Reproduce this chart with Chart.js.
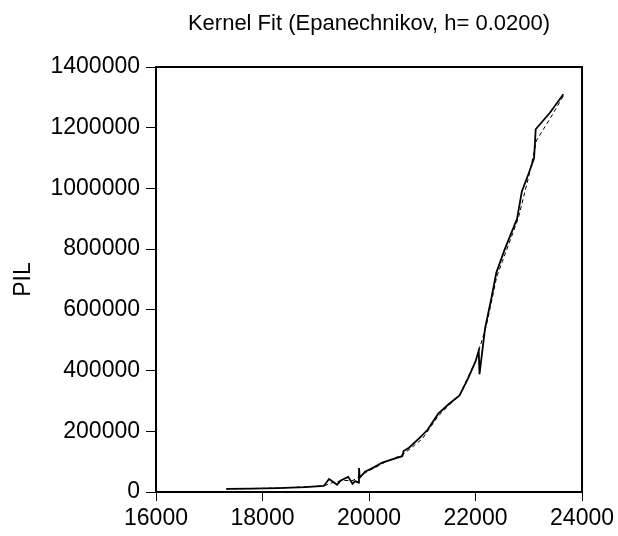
<!DOCTYPE html>
<html>
<head>
<meta charset="utf-8">
<script src="https://cdn.jsdelivr.net/npm/chart.js@4"></script>
<style>
  html, body { margin: 0; padding: 0; background: #fff; }
  #wrap { width: 618px; height: 536px; }
</style>
</head>
<body>
<div id="wrap"><canvas id="kernelChart"></canvas></div>
<script>
// observed series (solid line)
const pilX = [17320, 17800, 18300, 18800, 19150, 19250, 19400, 19470, 19610, 19690,
              19740, 19800, 19812, 19825, 19925, 20100, 20250, 20450, 20625, 20650,
              20750, 20950, 21100, 21300, 21500, 21700, 21850, 22000, 22060, 22075,
              22180, 22300, 22390, 22550, 22780, 22870, 23000, 23100, 23130, 23400, 23650];
const pilY = [10000, 11000, 13000, 16000, 20000, 43000, 24000, 38000, 50000, 27000,
              36000, 31000, 79000, 47000, 67000, 82000, 97000, 108000, 118000, 135000,
              146000, 178000, 205000, 258000, 290000, 318000, 370000, 430000, 465000, 388000,
              540000, 640000, 722000, 800000, 900000, 990000, 1050000, 1100000, 1195000, 1250000, 1310000];

// kernel fit (dashed line)
const fitX = [17320, 18300, 19150, 19300, 19500, 19700, 19850, 20000, 20300, 20650,
              21000, 21300, 21700, 22000, 22200, 22400, 22800, 23000, 23150, 23400, 23650];
const fitY = [10000, 13000, 20000, 30000, 38000, 38000, 55000, 70000, 98000, 125000,
              175000, 250000, 320000, 430000, 545000, 710000, 900000, 1040000, 1160000, 1230000, 1305000];

const xTicks = [16000, 18000, 20000, 22000, 24000];
const yTicks = [0, 200000, 400000, 600000, 800000, 1000000, 1200000, 1400000];

const titleText = 'Kernel Fit (Epanechnikov, h= 0.0200)';

const toPoints = (xs, ys) => xs.map((x, i) => ({ x, y: ys[i] }));

Chart.defaults.font.family = '"Liberation Sans", Arial, sans-serif';
Chart.defaults.color = '#000';

// box around the plot area + title centred over it
const frame = {
    id: 'frame',
    afterDatasetsDraw(chart) {
        const { ctx, chartArea: a } = chart;
        ctx.save();
        ctx.strokeStyle = '#000';
        ctx.lineWidth = 2;
        ctx.strokeRect(a.left, a.top, a.right - a.left, a.bottom - a.top);

        ctx.fillStyle = '#000';
        ctx.font = '22px "Liberation Sans", Arial, sans-serif';
        ctx.textAlign = 'center';
        ctx.textBaseline = 'middle';
        ctx.fillText(titleText, (a.left + a.right) / 2, 24);
        ctx.restore();
    }
};

new Chart(document.getElementById('kernelChart'), {
    type: 'scatter',
    data: {
        datasets: [
            {
                label: 'PIL',
                data: toPoints(pilX, pilY),
                showLine: true,
                borderColor: '#000',
                borderWidth: 1.8,
                pointRadius: 0,
                tension: 0
            },
            {
                label: 'Fit',
                data: toPoints(fitX, fitY),
                showLine: true,
                borderColor: '#000',
                borderWidth: 1,
                borderDash: [4, 3],
                pointRadius: 0,
                tension: 0
            }
        ]
    },
    options: {
        responsive: true,
        maintainAspectRatio: false,
        animation: false,
        layout: { padding: { left: 0, right: 35, top: 67, bottom: 0 } },
        plugins: {
            legend: { display: false },
            tooltip: { enabled: false },
            title: { display: false }
        },
        scales: {
            x: {
                type: 'linear',
                min: 16000,
                max: 24000,
                afterBuildTicks: s => { s.ticks = xTicks.map(v => ({ value: v })); },
                afterFit: s => { s.height = 44; },
                ticks: {
                    font: { size: 23 },
                    padding: 4,
                    maxRotation: 0,
                    callback: v => String(v)
                },
                grid: { display: true, drawOnChartArea: false, tickLength: 9, color: '#000' },
                border: { display: true, color: '#000', width: 2 }
            },
            y: {
                min: 0,
                max: 1400000,
                afterBuildTicks: s => { s.ticks = yTicks.map(v => ({ value: v })); },
                afterFit: s => { s.width = 156; },
                ticks: {
                    font: { size: 23 },
                    padding: 6,
                    callback: v => String(v)
                },
                grid: { display: true, drawOnChartArea: false, tickLength: 10, color: '#000' },
                border: { display: true, color: '#000', width: 2 },
                title: {
                    display: true,
                    text: 'PIL',
                    font: { size: 23 },
                    padding: { top: 10, bottom: 0 }
                }
            }
        }
    },
    plugins: [frame]
});
</script>
</body>
</html>
